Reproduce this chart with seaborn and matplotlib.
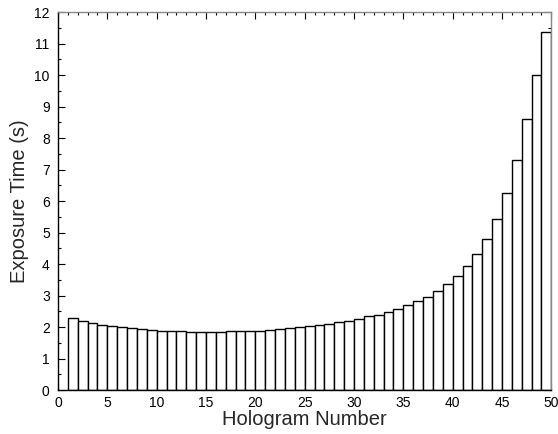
import numpy as np
import pandas as pd
import matplotlib
matplotlib.use('Agg')
import matplotlib.pyplot as plt
import seaborn as sns
from matplotlib.ticker import MultipleLocator

# --- data ---
hologram = list(range(1, 50))
exposure = [2.29, 2.21, 2.13, 2.08, 2.04, 2.00, 1.96, 1.93, 1.91, 1.89,
            1.88, 1.88, 1.86, 1.86, 1.85, 1.85, 1.87, 1.87, 1.89, 1.89,
            1.91, 1.94, 1.96, 2.00, 2.03, 2.06, 2.11, 2.16, 2.21, 2.26,
            2.34, 2.40, 2.49, 2.58, 2.69, 2.82, 2.96, 3.16, 3.37, 3.62,
            3.94, 4.32, 4.81, 5.43, 6.25, 7.31, 8.62, 10.01, 11.36]

df = pd.DataFrame({'Hologram': hologram, 'Exposure': exposure})
# each bar spans [n, n+1]
df['center'] = df['Hologram'] + 0.5

sns.set_style('ticks')
plt.rcParams['font.family'] = ['Liberation Sans', 'DejaVu Sans']

fig = plt.figure(figsize=(5.58, 4.34), dpi=100)
ax = fig.add_axes([0.104, 0.101, 0.884, 0.871])

sns.barplot(data=df, x='center', y='Exposure', native_scale=True, width=1,
            color='white', edgecolor='black', linewidth=1.0, ax=ax)

ax.set_xlim(0, 50)
ax.set_ylim(0, 12)
ax.xaxis.set_major_locator(MultipleLocator(5))
ax.xaxis.set_minor_locator(MultipleLocator(1))
ax.yaxis.set_major_locator(MultipleLocator(1))
ax.yaxis.set_minor_locator(MultipleLocator(0.5))
ax.tick_params(which='both', direction='in', top=True, right=True,
               labelsize=10, width=0.8, colors='black')
ax.tick_params(which='major', length=5)
ax.tick_params(which='minor', length=2.5)
ax.tick_params(axis='x', which='major', pad=4)
ax.tick_params(axis='y', which='major', pad=6)

for side in ['left', 'bottom']:
    ax.spines[side].set_color('black')
for side in ['top', 'right']:
    ax.spines[side].set_color('#888888')
for s in ax.spines.values():
    s.set_linewidth(1.0)

ax.set_xlabel('Hologram Number', fontsize=14.5, labelpad=0)
ax.set_ylabel('Exposure Time (s)', fontsize=14.5, labelpad=4)

fig.savefig('out.png', dpi=100)
